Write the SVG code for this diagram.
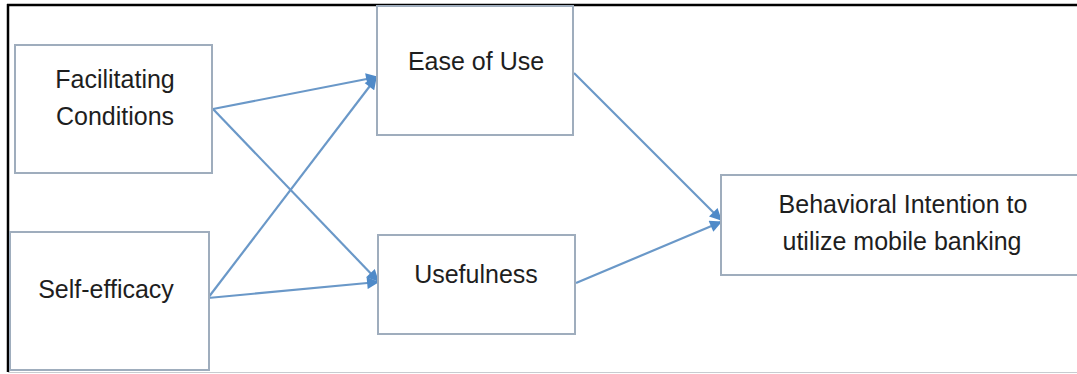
<svg xmlns="http://www.w3.org/2000/svg" width="1077" height="374" viewBox="0 0 1077 374">
<defs>
<style>
.box{fill:#ffffff;stroke:#9fadbd;stroke-width:2}
.lbl{font-family:"Liberation Sans",Arial,sans-serif;font-size:25px;fill:#1e1e1e;text-anchor:middle}
.conn{stroke:#6a98c8;stroke-width:2.2;fill:none;marker-end:url(#ah)}
</style>
<marker id="ah" viewBox="0 0 10 10" refX="9" refY="5" markerWidth="6" markerHeight="5.5" orient="auto" markerUnits="strokeWidth">
<path d="M0,0 L10,5 L0,10 Z" fill="#4f8ac8"/>
</marker>
</defs>
<rect x="0" y="0" width="1077" height="374" fill="#ffffff"/>
<g id="frame">
<line x1="7" y1="5" x2="1077" y2="5" stroke="#000" stroke-width="2.5"/>
<line x1="8" y1="4" x2="8" y2="372" stroke="#000" stroke-width="2.5"/>
<line x1="8" y1="372.5" x2="1077" y2="372.5" stroke="#c8ccd0" stroke-width="1.2"/>
</g>
<g id="connectors">
<line class="conn" x1="213" y1="109" x2="377" y2="77"/>
<line class="conn" x1="213" y1="109" x2="378" y2="281"/>
<line class="conn" x1="208" y1="298" x2="376" y2="78"/>
<line class="conn" x1="208" y1="298" x2="378" y2="282"/>
<line class="conn" x1="574" y1="73" x2="721" y2="220"/>
<line class="conn" x1="576" y1="283" x2="721" y2="222"/>
</g>
<g id="facilitating">
<rect class="box" x="15" y="45" width="197" height="128"/>
<text class="lbl" x="115" y="88">Facilitating</text>
<text class="lbl" x="115" y="125">Conditions</text>
</g>
<g id="selfefficacy">
<rect class="box" x="10" y="232" width="199" height="138"/>
<text class="lbl" x="106" y="298">Self-efficacy</text>
</g>
<g id="easeofuse">
<rect class="box" x="377" y="6" width="196" height="129"/>
<text class="lbl" x="476" y="70">Ease of Use</text>
</g>
<g id="usefulness">
<rect class="box" x="378" y="235" width="197" height="99"/>
<text class="lbl" x="476" y="283">Usefulness</text>
</g>
<g id="behavioral">
<rect class="box" x="721" y="175" width="370" height="100"/>
<text class="lbl" x="903" y="213">Behavioral Intention to</text>
<text class="lbl" x="902" y="250">utilize mobile banking</text>
</g>
</svg>
